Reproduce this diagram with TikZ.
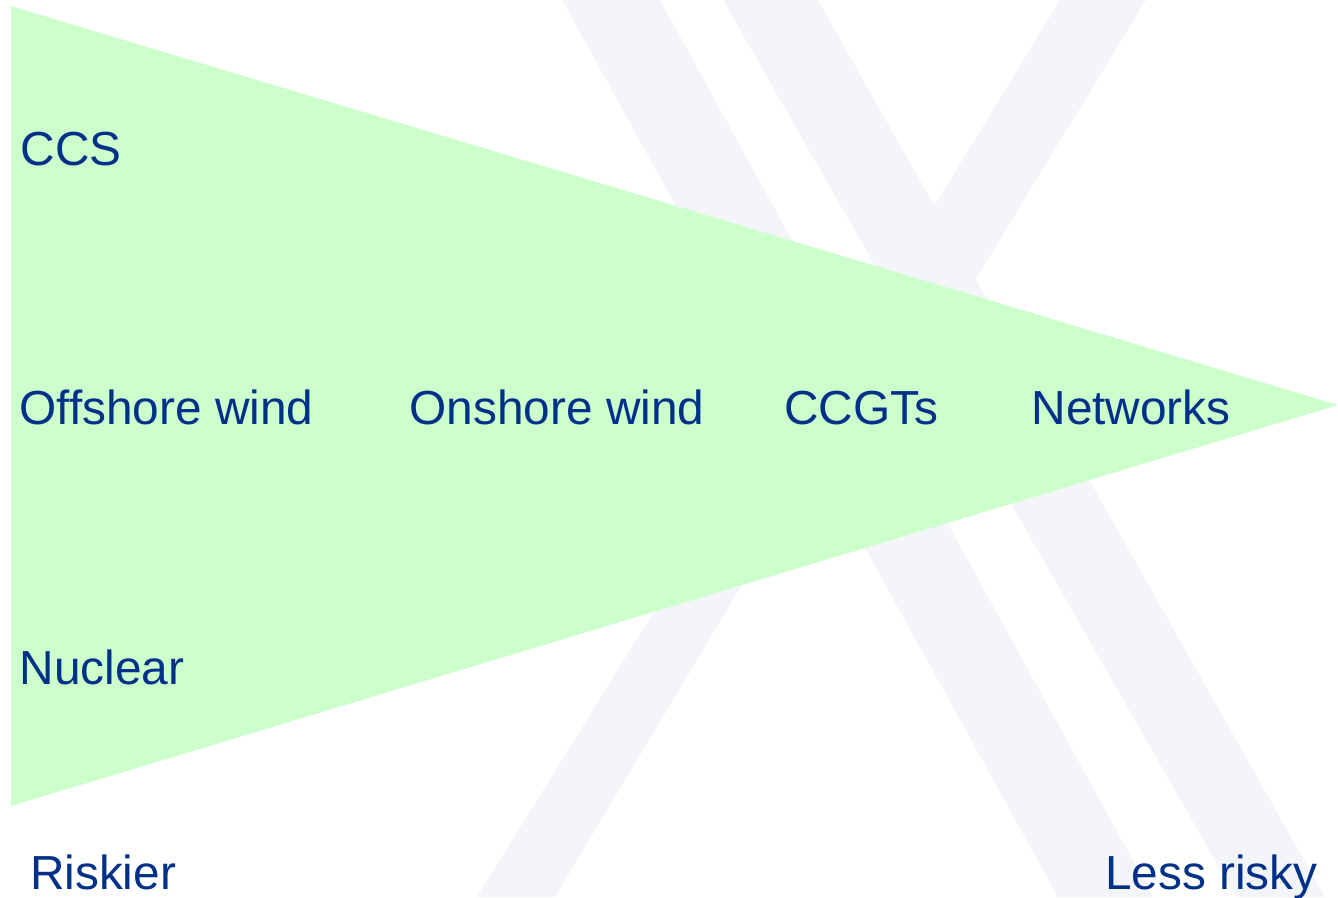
\documentclass[tikz,border=0pt]{standalone}
\usepackage{fontspec}
\setmainfont{Liberation Sans}
\definecolor{wedgegreen}{RGB}{204,255,204}
\definecolor{labelnavy}{RGB}{0,48,135}
\definecolor{stripegray}{RGB}{244,245,249}
\tikzset{
  lbl/.style={anchor=base west, inner sep=0pt, outer sep=0pt, text=labelnavy,
    font=\fontsize{47.8}{56}\selectfont},
  stripe/.style={fill=stripegray, draw=none},
  wedge/.style={fill=wedgegreen, draw=none}
}
\begin{document}
\begin{tikzpicture}[x=1pt, y=-1pt]
  \useasboundingbox (0,0) rectangle (1338,897);
  \fill[white] (0,0) rectangle (1338,897);
  % background X stripes
  \path[stripe] (562,0) -- (660,0) -- (1153,897) -- (1058,897) -- cycle;
  \path[stripe] (723,0) -- (818,0) -- (1325,897) -- (1236,897) -- cycle;
  \path[stripe] (1060,0) -- (1146,0) -- (902,400) -- (816,400) -- cycle;
  \path[stripe] (754,450) -- (823,450) -- (555,897) -- (477,897) -- cycle;
  % green wedge
  \path[wedge] (11,6) -- (1338,405) -- (11,806) -- cycle;
  % labels
  \node[lbl] (ccs) at (20.5,165) {CCS};
  \node[lbl] (offshore) at (19.5,424) {Offshore wind};
  \node[lbl] (onshore) at (409.5,424) {Onshore wind};
  \node[lbl] (ccgt) at (784,424) {CCGTs};
  \node[lbl] (networks) at (1031.5,424) {Networks};
  \node[lbl] (nuclear) at (19.7,684) {Nuclear};
  \node[lbl] (riskier) at (30,889) {Riskier};
  \node[lbl] (lessrisky) at (1105,889) {Less risky};
\end{tikzpicture}
\end{document}
